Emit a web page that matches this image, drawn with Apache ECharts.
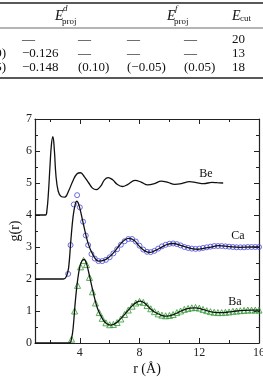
<!DOCTYPE html>
<html>
<head>
<meta charset="utf-8">
<script src="https://cdn.jsdelivr.net/npm/echarts@6/dist/echarts.min.js"></script>
<style>
  html, body { margin: 0; padding: 0; background: #fff; }
  #main { width: 263px; height: 377px; }
</style>
</head>
<body>
<div id="main"></div>
<script>
const serif = 'Liberation Serif'

// g(r) curves, offset: Be +4, Ca +2, Ba 0
const beLine = [[1.0,4.0],[1.7,4.0],[1.8,4.15],[1.9,4.7],[2.0,5.5],[2.1,6.2],[2.2,6.45],[2.3,6.0],[2.4,5.25],[2.55,4.75],[2.75,4.58],[3.0,4.56],[3.25,4.75],[3.55,5.08],[3.8,5.28],[4.05,5.32],[4.3,5.2],[4.6,5.0],[4.85,4.84],[5.1,4.79],[5.4,4.9],[5.65,5.1],[5.9,5.17],[6.2,5.1],[6.5,4.96],[6.85,4.89],[7.2,4.95],[7.7,5.08],[8.1,5.03],[8.55,4.94],[9.0,4.98],[9.45,5.06],[9.9,5.02],[10.35,4.96],[10.8,4.98],[11.35,5.04],[11.8,5.01],[12.3,4.98],[12.85,5.02],[13.2,5.01],[13.6,5.0]]

const caLine = [[1,2],[2.9,2],[3.1,2.08],[3.25,2.35],[3.4,3.2],[3.55,3.95],[3.7,4.35],[3.8,4.43],[3.95,4.3],[4.2,3.8],[4.55,3.12],[4.9,2.74],[5.25,2.56],[5.6,2.58],[5.95,2.68],[6.3,2.84],[6.65,3.05],[7.0,3.22],[7.3,3.27],[7.65,3.2],[8.0,3.02],[8.35,2.88],[8.7,2.83],[9.0,2.88],[9.35,2.96],[9.8,3.07],[10.25,3.11],[10.7,3.06],[11.1,3.0],[11.5,2.95],[11.9,2.93],[12.3,2.96],[12.7,2.99],[13.3,3.04],[14.0,3.01],[14.7,2.99],[15.5,3.0],[16,3.0]]

const caPoints = [[3.22,2.16],[3.38,3.06],[3.6,4.33],[3.82,4.62],[4.0,4.24],[4.22,3.79],[4.4,3.36],[4.56,3.06],[4.78,2.78],[5.0,2.64],[5.25,2.56],[5.5,2.56],[5.75,2.6],[6.0,2.68],[6.25,2.8],[6.5,2.93],[6.75,3.07],[7.0,3.18],[7.25,3.25],[7.5,3.25],[7.75,3.17],[8.0,3.04],[8.25,2.92],[8.5,2.85],[8.75,2.84],[9.0,2.88],[9.25,2.95],[9.5,3.02],[9.75,3.07],[10.0,3.1],[10.25,3.11],[10.5,3.09],[10.75,3.05],[11.0,3.0],[11.25,2.97],[11.5,2.95],[11.75,2.94],[12.0,2.95],[12.25,2.97],[12.5,2.99],[12.75,3.01],[13.0,3.03],[13.25,3.03],[13.5,3.03],[13.75,3.02],[14.0,3.01],[14.25,3.0],[14.5,2.99],[14.75,2.99],[15.0,2.99],[15.25,3.0],[15.5,3.0],[15.75,3.0],[16.0,3.0]]

const baLine = [[1,0],[3.3,0],[3.45,0.15],[3.56,0.5],[3.7,1.3],[3.85,1.95],[4.0,2.38],[4.15,2.57],[4.3,2.61],[4.45,2.48],[4.6,2.2],[4.9,1.58],[5.2,1.06],[5.55,0.73],[5.8,0.6],[6.05,0.56],[6.3,0.59],[6.6,0.69],[6.9,0.84],[7.2,1.0],[7.5,1.16],[7.8,1.27],[8.05,1.31],[8.35,1.24],[8.7,1.08],[9.0,0.97],[9.35,0.89],[9.7,0.84],[10.0,0.85],[10.35,0.9],[10.7,0.98],[11.05,1.05],[11.4,1.09],[11.75,1.1],[12.1,1.07],[12.45,1.02],[12.8,0.97],[13.2,0.95],[13.6,0.95],[14.0,0.97],[14.5,1.0],[15.0,1.02],[15.5,1.03],[16,1.03]]

const baPoints = [[3.45,0.12],[3.65,1.0],[3.85,1.8],[4.05,2.38],[4.25,2.58],[4.45,2.45],[4.65,2.05],[4.85,1.6],[5.05,1.25],[5.3,0.95],[5.5,0.77],[5.75,0.63],[6.0,0.57],[6.25,0.58],[6.5,0.64],[6.75,0.75],[7.0,0.89],[7.25,1.03],[7.5,1.15],[7.75,1.25],[8.0,1.3],[8.25,1.27],[8.5,1.17],[8.75,1.07],[9.0,0.98],[9.25,0.91],[9.5,0.87],[9.75,0.85],[10.0,0.86],[10.25,0.89],[10.5,0.95],[10.75,1.0],[11.0,1.05],[11.25,1.08],[11.5,1.1],[11.75,1.11],[12.0,1.09],[12.25,1.05],[12.5,1.01],[12.75,0.98],[13.0,0.96],[13.25,0.95],[13.5,0.95],[13.75,0.96],[14.0,0.97],[14.25,0.99],[14.5,1.0],[14.75,1.01],[15.0,1.02],[15.25,1.03],[15.5,1.03],[15.75,1.03],[16.0,1.03]]

const xMajor = [4, 8, 12, 16]
const xMinor = [2, 6, 10, 14]

// table rows above the chart
const tableCols = [22, 78, 127, 184, 232]
const tableRows = [
  ['\u2014', '\u2014', '\u2014', '\u2014', '20'],
  ['\u22120.126', '\u2014', '\u2014', '\u2014', '13'],
  ['\u22120.148', '(0.10)', '(\u22120.05)', '(0.05)', '18']
]
const rowY = [40, 54, 68]

const txt = (x, y, s, extra) => ({
  type: 'text', x, y,
  style: Object.assign({ text: s, font: '13px ' + serif, fill: '#111', textVerticalAlign: 'middle' }, extra || {})
})

const graphic = [
  { type: 'line', shape: { x1: 0, y1: 3, x2: 263, y2: 3 }, style: { stroke: '#222', lineWidth: 1.5 } },
  { type: 'line', shape: { x1: 0, y1: 28, x2: 263, y2: 28 }, style: { stroke: '#444', lineWidth: 0.8 } },
  { type: 'line', shape: { x1: 0, y1: 78, x2: 263, y2: 78 }, style: { stroke: '#222', lineWidth: 1.5 } },
  txt(55, 16, 'E', { font: 'italic 14px ' + serif }),
  txt(63, 9, 'd', { font: 'italic 9px ' + serif }),
  txt(62, 22, 'proj', { font: '9px ' + serif }),
  txt(167, 16, 'E', { font: 'italic 14px ' + serif }),
  txt(175, 9, 'f', { font: 'italic 9px ' + serif }),
  txt(174, 22, 'proj', { font: '9px ' + serif }),
  txt(232, 16, 'E', { font: 'italic 14px ' + serif }),
  txt(240, 19, 'cut', { font: '9px ' + serif }),
  txt(6, 54, '0)', { textAlign: 'right' }),
  txt(6, 68, '5)', { textAlign: 'right' }),
  txt(206, 174, 'Be', { font: '12px ' + serif, textAlign: 'center' }),
  txt(238, 236, 'Ca', { font: '12px ' + serif, textAlign: 'center' }),
  txt(235, 302, 'Ba', { font: '12px ' + serif, textAlign: 'center' })
]
tableRows.forEach((row, i) => {
  row.forEach((s, j) => graphic.push(txt(tableCols[j], rowY[i], s)))
})

const axisLine = { lineStyle: { color: '#222', width: 1.2 } }
const baseX = { type: 'value', min: 1, max: 16, splitLine: { show: false }, axisLine }

const chart = echarts.init(document.getElementById('main'), null, { renderer: 'canvas' })
chart.setOption({
  animation: false,
  backgroundColor: '#fff',
  grid: { left: 35, right: 4, top: 119, bottom: 34, outerBoundsMode: 'none', containLabel: false },
  xAxis: [
    Object.assign({}, baseX, {
      position: 'bottom',
      name: 'r (\u00c5)', nameLocation: 'middle', nameGap: 19, nameMoveOverlap: false,
      nameTextStyle: { fontFamily: serif, fontSize: 14, color: '#111' },
      axisTick: { inside: true, length: 5, customValues: xMajor, lineStyle: { color: '#222' } },
      axisLabel: { customValues: xMajor, fontFamily: serif, fontSize: 12, color: '#222', margin: 4 }
    }),
    Object.assign({}, baseX, {
      position: 'bottom', axisLine: { show: false },
      axisTick: { inside: true, length: 3, customValues: xMinor, lineStyle: { color: '#222' } },
      axisLabel: { show: false }
    }),
    Object.assign({}, baseX, {
      position: 'top',
      axisTick: { inside: true, length: 5, customValues: xMajor, lineStyle: { color: '#222' } },
      axisLabel: { show: false }
    }),
    Object.assign({}, baseX, {
      position: 'top', axisLine: { show: false },
      axisTick: { inside: true, length: 3, customValues: xMinor, lineStyle: { color: '#222' } },
      axisLabel: { show: false }
    })
  ],
  yAxis: [
    {
      type: 'value', min: 0, max: 7, interval: 1, position: 'left',
      name: 'g(r)', nameLocation: 'middle', nameGap: 13, nameMoveOverlap: false,
      nameTextStyle: { fontFamily: serif, fontSize: 14, color: '#111' },
      splitLine: { show: false }, axisLine,
      axisTick: { inside: true, length: 5, lineStyle: { color: '#222' } },
      minorTick: { show: true, splitNumber: 2, length: 3, lineStyle: { color: '#222' } },
      axisLabel: { fontFamily: serif, fontSize: 12, color: '#222', margin: 3 }
    },
    {
      type: 'value', min: 0, max: 7, interval: 1, position: 'right',
      splitLine: { show: false }, axisLine,
      axisTick: { inside: true, length: 5, lineStyle: { color: '#222' } },
      minorTick: { show: true, splitNumber: 2, length: 3, lineStyle: { color: '#222' } },
      axisLabel: { show: false }
    }
  ],
  graphic,
  series: [
    { type: 'line', data: beLine, smooth: 0.4, showSymbol: false, lineStyle: { color: '#111', width: 1.3 } },
    { type: 'line', data: caLine, smooth: 0.4, showSymbol: false, lineStyle: { color: '#111', width: 1.3 } },
    { type: 'line', data: baLine, smooth: 0.4, showSymbol: false, lineStyle: { color: '#111', width: 1.3 } },
    { type: 'scatter', data: caPoints, symbol: 'circle', symbolSize: 5,
      itemStyle: { color: 'rgba(0,0,0,0)', borderColor: '#4646dc', borderWidth: 1 } },
    { type: 'scatter', data: baPoints, symbol: 'triangle', symbolSize: 6,
      itemStyle: { color: 'rgba(0,0,0,0)', borderColor: '#2e9a2e', borderWidth: 1 } }
  ]
})
</script>
</body>
</html>
